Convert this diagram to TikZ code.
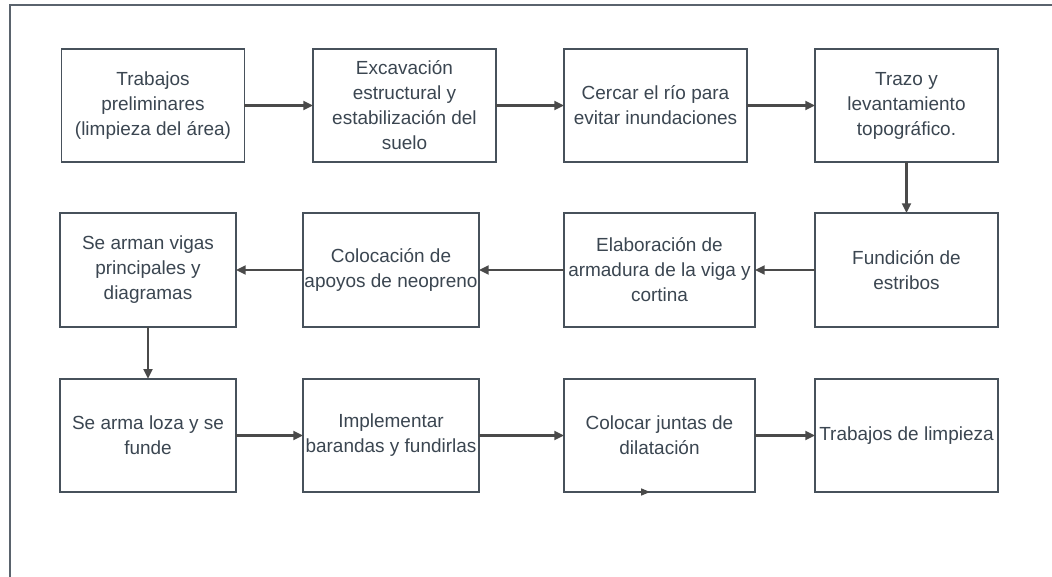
\documentclass[tikz,border=0pt]{standalone}
\usepackage{fontspec}
\setmainfont{Liberation Sans}
\usetikzlibrary{arrows.meta}
\definecolor{framec}{HTML}{5A636D}
\definecolor{boxline}{HTML}{47515B}
\definecolor{boxtext}{HTML}{3B4651}
\definecolor{wire}{HTML}{4A4A4A}
\tikzset{
  stepbox/.style={draw=boxline, line width=0.85pt, fill=white, text=boxtext, align=center,
    inner sep=0pt, outer sep=0pt, font=\fontsize{10.8}{14.2}\selectfont},
  wide/.style={stepbox, minimum width=3.66cm, minimum height=2.26cm},
  narrow/.style={stepbox, minimum width=3.52cm, minimum height=2.27cm},
  wider/.style={stepbox, minimum width=3.82cm, minimum height=2.27cm},
  flow/.style={draw=wire, line width=1.7pt, -{Triangle[length=5.5pt,width=5pt]}},
  stub/.style={draw=wire, line width=0.6pt, -{Triangle[length=5pt,width=4pt]}},
  border/.style={draw=framec, line width=0.85pt},
}

\begin{document}
\begin{tikzpicture}[x=0.02cm,y=-0.02cm]
  \useasboundingbox (0,0) rectangle (1052,577);
  \draw[border] (10,577) -- (10,5) -- (1052,5);

  % first row
  \node[wide] (prelim) at (153,105.5) {Trabajos\\preliminares\\(limpieza del área)};
  \node[wide] (excav) at (404.5,105.5) {Excavación\\estructural y\\estabilización del\\suelo};
  \node[wide] (cercar) at (655.5,105.5) {Cercar el río para\\evitar inundaciones};
  \node[wide] (trazo) at (906.5,105.5) {Trazo y\\levantamiento\\topográfico.};

  % second row
  \node[wide, minimum height=2.28cm] (estribos) at (906.5,270) {Fundición de\\estribos};
  \node[wider, minimum height=2.28cm] (armadura) at (659.5,270) {Elaboración de\\armadura de la viga y\\cortina};
  \node[narrow, minimum height=2.28cm] (apoyos) at (391,270) {Colocación de\\apoyos de neopreno};
  \node[narrow, minimum height=2.28cm] (vigas) at (148,270) {Se arman vigas\\principales y\\diagramas};

  % third row
  \node[narrow] (loza) at (148,435.5) {Se arma loza y se\\funde};
  \node[narrow] (barandas) at (391,435.5) {Implementar\\barandas y fundirlas};
  \node[wider] (juntas) at (659.5,435.5) {Colocar juntas de\\dilatación};
  \node[wide] (limpieza) at (906.5,435.5) {Trabajos de limpieza};

  \draw[flow] (prelim) -- (excav);
  \draw[flow] (excav) -- (cercar);
  \draw[flow] (cercar) -- (trazo);
  \draw[flow] (trazo) -- (estribos);
  \draw[flow] (estribos) -- (armadura);
  \draw[flow] (armadura) -- (apoyos);
  \draw[flow] (apoyos) -- (vigas);
  \draw[flow] (vigas) -- (loza);
  \draw[flow] (loza) -- (barandas);
  \draw[flow] (barandas) -- (juntas);
  \draw[flow] (juntas) -- (limpieza);

  \coordinate (stubA) at (640,492);
  \coordinate (stubB) at (650,492);
  \draw[stub] (stubA) -- (stubB);
\end{tikzpicture}
\end{document}
